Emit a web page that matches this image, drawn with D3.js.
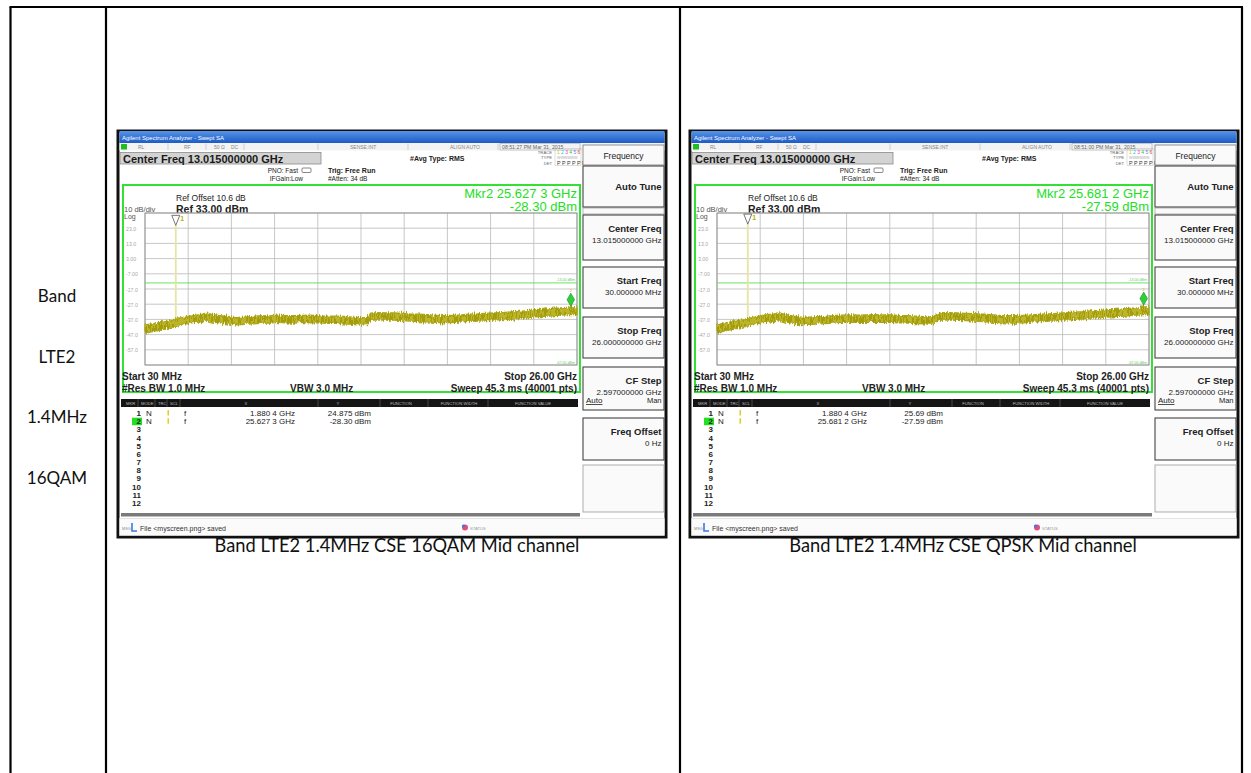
<!DOCTYPE html>
<html>
<head>
<meta charset="utf-8">
<script src="https://cdn.jsdelivr.net/npm/d3@7"></script>
<style>
  body { margin: 0; background: #fff; }
  svg { display: block; }
  .sa text { font-family: "Liberation Sans", Arial, sans-serif; }
  .doc { font-family: Lato, "Open Sans", sans-serif; }
</style>
</head>
<body>
<svg id="chart" width="1251" height="773"></svg>
<script>
// ---- document table text ----
const rowLabels = ["Band", "LTE2", "1.4MHz", "16QAM"];
const captions = ["Band LTE2 1.4MHz CSE 16QAM Mid channel", "Band LTE2 1.4MHz CSE QPSK Mid channel"];

// ---- analyzer settings ----
const startGHz = 0.03;
const stopGHz = 26.0;
const refLevel = 33.0;          // dBm, top graticule line
const dbPerDiv = 10;
const limitLevel = -13.0;       // dBm display line
const yTickValues = [23, 13, 3, -7, -17, -27, -37, -47, -57];
const yTickLabels = ["23.0", "13.0", "3.00", "-7.00", "-17.0", "-27.0", "-37.0", "-47.0", "-57.0"];
const sweepTimes = ["08:51:27 PM Mar 31, 2015", "08:51:00 PM Mar 31, 2015"];

// ---- trace envelopes (max / min of the noise band), dBm vs GHz ----
const freqGHz = [0.03,0.5,1.0,1.5,2.0,2.5,3.0,3.5,3.7,4.0,4.5,5.0,5.5,6.0,6.5,7.0,7.5,8.0,8.5,9.0,9.5,10.0,10.5,11.0,11.5,12.0,12.5,13.0,13.4,13.6,14.0,14.5,15.0,15.5,16.0,16.5,17.0,17.5,18.0,18.5,19.0,19.5,20.0,20.5,21.0,21.5,22.0,22.5,23.0,23.5,24.0,24.5,25.0,25.5,25.63,26.0];
const qamPeak = [-40.6,-40.0,-38.9,-37.9,-36.2,-35.3,-34.4,-33.5,-32.8,-33.6,-34.5,-35.0,-35.9,-35.5,-35.1,-34.6,-34.7,-34.2,-34.6,-34.5,-34.4,-34.2,-34.7,-34.8,-34.9,-35.1,-35.6,-35.9,-35.8,-32.8,-32.6,-32.7,-32.8,-33.0,-33.5,-33.6,-33.9,-34.3,-34.6,-34.3,-34.1,-33.5,-33.4,-33.0,-32.8,-32.5,-32.1,-31.8,-31.2,-30.6,-30.3,-29.8,-29.5,-29.0,-28.3,-29.0];
const qamFloor = [-46.0,-45.0,-44.1,-42.6,-41.3,-40.0,-39.1,-38.3,-37.4,-38.5,-39.2,-39.9,-40.6,-40.3,-39.9,-39.6,-39.4,-39.0,-39.3,-39.4,-39.0,-39.2,-39.3,-39.6,-39.6,-39.9,-40.2,-40.7,-40.5,-37.6,-37.3,-37.4,-37.5,-37.8,-38.1,-38.4,-38.6,-38.9,-39.3,-39.1,-38.8,-38.3,-38.1,-37.9,-37.5,-37.2,-37.0,-36.5,-36.0,-35.4,-35.0,-34.7,-34.2,-33.9,-33.7,-33.8];
const qpskPeak = [-40.7,-39.5,-38.5,-37.4,-36.1,-34.9,-33.9,-33.3,-32.6,-33.4,-34.7,-35.5,-35.6,-35.2,-35.0,-34.5,-34.2,-34.0,-34.2,-34.1,-33.9,-34.1,-34.0,-34.4,-34.6,-34.8,-35.2,-35.3,-32.8,-32.5,-32.6,-32.8,-33.0,-33.2,-33.6,-33.9,-34.3,-34.5,-34.6,-34.3,-34.0,-33.6,-33.3,-33.0,-32.6,-32.2,-31.9,-31.4,-31.0,-30.7,-30.4,-30.1,-29.6,-29.2,-27.6,-29.0];
const qpskFloor = [-46.0,-44.6,-43.5,-42.3,-41.0,-39.7,-38.9,-38.1,-37.3,-38.2,-39.4,-40.4,-40.3,-40.1,-39.8,-39.4,-39.0,-38.9,-39.0,-38.9,-38.8,-38.9,-38.9,-39.2,-39.4,-39.7,-40.0,-40.2,-37.6,-37.4,-37.4,-37.6,-37.8,-38.1,-38.4,-38.8,-39.1,-39.3,-39.4,-39.2,-38.8,-38.4,-38.1,-37.9,-37.4,-37.0,-36.7,-36.2,-35.8,-35.5,-35.2,-34.9,-34.4,-34.0,-33.8,-33.8];

// ---- marker table ----
const qamMarkerFreq = [1.8804, 25.6273];
const qamMarkerLevel = [24.875, -28.30];
const qamMarkerX = ["1.880 4 GHz", "25.627 3 GHz"];
const qamMarkerY = ["24.875 dBm", "-28.30 dBm"];
const qpskMarkerFreq = [1.8804, 25.6812];
const qpskMarkerLevel = [25.69, -27.59];
const qpskMarkerX = ["1.880 4 GHz", "25.681 2 GHz"];
const qpskMarkerY = ["25.69 dBm", "-27.59 dBm"];
const mkrReadoutFreq = ["25.627 3 GHz", "25.681 2 GHz"];
const mkrReadoutLevel = ["-28.30 dBm", "-27.59 dBm"];

const softkeys = [
  { label: "Auto Tune", value: "" },
  { label: "Center Freq", value: "13.015000000 GHz" },
  { label: "Start Freq", value: "30.000000 MHz" },
  { label: "Stop Freq", value: "26.000000000 GHz" },
  { label: "CF Step", value: "2.597000000 GHz" },
  { label: "Freq Offset", value: "0 Hz" }
];
const tableHeads = ["MKR", "MODE", "TRC", "SCL", "X", "Y", "FUNCTION", "FUNCTION WIDTH", "FUNCTION VALUE"];

const svg = d3.select("#chart");
svg.append("rect").attr("width", 1251).attr("height", 773).attr("fill", "#fff");

const defs = svg.append("defs");
const tb = defs.append("linearGradient").attr("id", "titleBar").attr("x1", 0).attr("y1", 0).attr("x2", 0).attr("y2", 1);
tb.append("stop").attr("offset", 0).attr("stop-color", "#5793e8");
tb.append("stop").attr("offset", 1).attr("stop-color", "#1c5bc6");
const pat = defs.append("pattern").attr("id", "traceFill").attr("width", 2).attr("height", 4).attr("patternUnits", "userSpaceOnUse");
pat.append("rect").attr("width", 2).attr("height", 4).attr("fill", "#bcb52a");
pat.append("rect").attr("width", 1).attr("height", 4).attr("fill", "#a39d0c");
// ragged edge for the noise band
const rough = defs.append("filter").attr("id", "rough")
  .attr("x", "-2%").attr("y", "-60%").attr("width", "104%").attr("height", "220%");
rough.append("feTurbulence").attr("type", "fractalNoise").attr("baseFrequency", "0.85 0.06")
  .attr("numOctaves", 2).attr("seed", 7).attr("result", "n");
rough.append("feDisplacementMap").attr("in", "SourceGraphic").attr("in2", "n").attr("scale", 6)
  .attr("xChannelSelector", "R").attr("yChannelSelector", "G");

// ---- document table ----
const doc = svg.append("g").attr("class", "doc");
[[10.5, 7, 10.5, 773], [106, 7, 106, 773], [680, 7, 680, 773], [1242, 7, 1242, 773], [9.5, 7, 1243, 7]]
  .forEach(([x1, y1, x2, y2]) => doc.append("line").attr("x1", x1).attr("y1", y1).attr("x2", x2).attr("y2", y2)
    .attr("stroke", "#000").attr("stroke-width", 2.2));
doc.selectAll("text.rowlab").data(rowLabels).join("text")
  .attr("x", 57).attr("y", (d, i) => 302 + i * 60.7)
  .attr("text-anchor", "middle").attr("font-size", 17).attr("fill", "#111").text(d => d);
doc.selectAll("text.cap").data(captions).join("text")
  .attr("x", (d, i) => i === 0 ? 397 : 963).attr("y", 552)
  .attr("text-anchor", "middle").attr("font-size", 18.3).attr("fill", "#111").text(d => d);

// ---- one analyzer screen ----
function drawScreen(g, cfg) {
  const x = d3.scaleLinear().domain([startGHz, stopGHz]).range([27, 459]);
  const y = d3.scaleLinear().domain([refLevel, refLevel - 10 * dbPerDiv]).range([82, 234]);
  const T = (sel, px, py, txt, size, opts = {}) => sel.append("text").attr("x", px).attr("y", py)
    .attr("font-size", size).attr("fill", opts.fill || "#222").attr("font-weight", opts.bold ? "bold" : null)
    .attr("text-anchor", opts.anchor || "start").text(txt);

  g.append("rect").attr("x", 0).attr("y", 0).attr("width", 548).attr("height", 406)
    .attr("fill", "#fff").attr("stroke", "#111").attr("stroke-width", 3);
  // title bar
  g.append("rect").attr("x", 1.5).attr("y", 0).attr("width", 545).attr("height", 12).attr("fill", "url(#titleBar)");
  T(g, 4, 8.5, "Agilent Spectrum Analyzer - Swept SA", 6, { fill: "#fff" });
  // status row
  g.append("rect").attr("x", 1.5).attr("y", 12).attr("width", 545).attr("height", 7.5).attr("fill", "#f3f3f3");
  g.append("rect").attr("x", 3).attr("y", 13).attr("width", 6).attr("height", 5.5).attr("fill", "#1fbf1f");
  [["RL", 20], ["RF", 66], ["50 Ω", 96], ["DC", 113], ["SENSE:INT", 232], ["ALIGN AUTO", 332]]
    .forEach(([t, px]) => T(g, px, 18, t, 5, { fill: "#888" }));
  [50, 88, 126, 200, 290, 380].forEach(px => g.append("line").attr("x1", px).attr("x2", px)
    .attr("y1", 12.5).attr("y2", 19).attr("stroke", "#bbb").attr("stroke-width", 0.6));
  g.append("rect").attr("x", 382).attr("y", 12.5).attr("width", 80).attr("height", 6.5).attr("fill", "none").attr("stroke", "#999").attr("stroke-width", 0.5);
  T(g, 384, 18, cfg.time, 5.2, { fill: "#666" });
  // center freq box
  g.append("rect").attr("x", 2).attr("y", 21.5).attr("width", 201).attr("height", 11.5)
    .attr("fill", "#d3d3d3").attr("stroke", "#8a8a8a").attr("stroke-width", 0.8);
  T(g, 5, 31.5, "Center Freq 13.015000000 GHz", 11, { bold: true, fill: "#1a1a1a" });
  T(g, 180, 41.5, "PNO: Fast", 6.5, { anchor: "end" });
  g.append("rect").attr("x", 184).attr("y", 37).attr("width", 9).attr("height", 4.5).attr("rx", 1)
    .attr("fill", "none").attr("stroke", "#555").attr("stroke-width", 0.7);
  T(g, 185, 49.5, "IFGain:Low", 6.5, { anchor: "end" });
  T(g, 210, 42, "Trig: Free Run", 7, { bold: true });
  T(g, 210, 50, "#Atten: 34 dB", 6.5);
  T(g, 292, 30, "#Avg Type: RMS", 7, { bold: true });
  T(g, 434, 22.5, "TRACE", 4.2, { anchor: "end", fill: "#666" });
  ["#c8c400", "#30c0e0", "#e040e0", "#30c030", "#6080ff", "#e04040"].forEach((c, i) =>
    T(g, 439 + i * 4.1, 22.5, String(i + 1), 5, { fill: c }));
  g.append("rect").attr("x", 437).attr("y", 17.5).attr("width", 26).attr("height", 17).attr("fill", "none").attr("stroke", "#aaa").attr("stroke-width", 0.4);
  T(g, 434, 28, "TYPE", 4.2, { anchor: "end", fill: "#666" });
  T(g, 439, 28, "WWWWWW", 3.6, { fill: "#aaa" });
  T(g, 434, 33.5, "DET", 4.2, { anchor: "end", fill: "#666" });
  T(g, 439, 33.5, "P P P P P P", 5.4, { fill: "#333" });

  // plot region
  g.append("rect").attr("x", 5).attr("y", 54).attr("width", 457).attr("height", 207)
    .attr("fill", "#fff").attr("stroke", "#33e033").attr("stroke-width", 2);
  T(g, 58, 70, "Ref Offset 10.6 dB", 8.5);
  T(g, 6, 81, "10 dB/div", 7.5, { fill: "#555" });
  T(g, 58, 82, "Ref 33.00 dBm", 10.5, { bold: true });
  T(g, 6, 87.5, "Log", 7, { fill: "#555" });
  T(g, 459, 67, "Mkr2 " + cfg.mkrFreq, 13, { anchor: "end", fill: "#22e022" });
  T(g, 459, 80, cfg.mkrLevel, 13, { anchor: "end", fill: "#22e022" });

  // graticule
  const grid = g.append("g");
  const xTicks = d3.range(11).map(i => startGHz + i * (stopGHz - startGHz) / 10);
  const yTicks = d3.range(11).map(i => refLevel - i * dbPerDiv);
  grid.selectAll("line.v").data(xTicks).join("line")
    .attr("x1", d => x(d)).attr("x2", d => x(d)).attr("y1", y(refLevel)).attr("y2", y(refLevel - 10 * dbPerDiv))
    .attr("stroke", "#b9b9b9").attr("stroke-width", 0.8);
  grid.selectAll("line.h").data(yTicks).join("line")
    .attr("x1", x(startGHz)).attr("x2", x(stopGHz)).attr("y1", d => y(d)).attr("y2", d => y(d))
    .attr("stroke", "#b9b9b9").attr("stroke-width", 0.8);
  grid.append("rect").attr("x", x(startGHz)).attr("y", y(refLevel))
    .attr("width", x(stopGHz) - x(startGHz)).attr("height", y(refLevel - 100) - y(refLevel))
    .attr("fill", "none").attr("stroke", "#8f8f8f").attr("stroke-width", 0.9);
  grid.selectAll("text.yl").data(yTickValues).join("text")
    .attr("x", 8).attr("y", d => y(d) + 2.5).attr("font-size", 5.2).attr("fill", "#a8a8a8")
    .text((d, i) => yTickLabels[i]);

  // display line
  g.append("line").attr("x1", x(startGHz)).attr("x2", x(stopGHz)).attr("y1", y(limitLevel)).attr("y2", y(limitLevel))
    .attr("stroke", "#55e055").attr("stroke-width", 0.9);
  T(g, 457, y(limitLevel) - 1.5, "-13.00 dBm", 3.6, { anchor: "end", fill: "#66cc66" });
  T(g, 457, y(refLevel - 100) - 1.5, "-67.00 dBm", 3.6, { anchor: "end", fill: "#66cc66" });

  // marker 1 carrier line
  const m1x = x(cfg.mFreq[0]), m1y = y(cfg.mLevel[0]);
  g.append("line").attr("x1", m1x).attr("x2", m1x).attr("y1", m1y).attr("y2", y(-42))
    .attr("stroke", "#e6e5a6").attr("stroke-width", 1.8);

  // trace band
  const pts = freqGHz.map((f, i) => ({ f, hi: cfg.peak[i], lo: cfg.floor[i] }));
  g.append("path").datum(pts)
    .attr("d", d3.area().x(d => x(d.f)).y0(d => y(d.lo)).y1(d => y(d.hi)))
    .attr("fill", "url(#traceFill)").attr("stroke", "#aca616").attr("stroke-width", 1.3)
    .attr("filter", "url(#rough)");

  // marker 1 symbol
  g.append("path").attr("d", `M${m1x},${m1y} L${m1x - 4},${m1y - 10} L${m1x + 4},${m1y - 10} Z`)
    .attr("fill", "#fff").attr("stroke", "#555").attr("stroke-width", 0.8);
  T(g, m1x + 4.5, m1y - 4, "1", 7, { fill: "#b9b400", bold: true });
  // marker 2 symbol
  const m2x = x(cfg.mFreq[1]), m2y = y(cfg.mLevel[1]);
  g.append("path").attr("d", `M${m2x},${m2y} L${m2x - 3.8},${m2y - 6.5} L${m2x},${m2y - 13} L${m2x + 3.8},${m2y - 6.5} Z`)
    .attr("fill", "#2fcf3a").attr("stroke", "#13902a").attr("stroke-width", 0.6);
  T(g, m2x, m2y - 14, "2", 4, { anchor: "middle", fill: "#f0a020" });

  // footer of plot
  T(g, 4, 248.5, "Start 30 MHz", 10, { bold: true });
  T(g, 4, 260.5, "#Res BW 1.0 MHz", 10, { bold: true });
  T(g, 172, 260.5, "VBW 3.0 MHz", 10, { bold: true });
  T(g, 459, 248.5, "Stop 26.00 GHz", 10, { anchor: "end", bold: true });
  T(g, 459, 260.5, "Sweep  45.3 ms (40001 pts)", 10, { anchor: "end", bold: true });

  // marker table
  g.append("rect").attr("x", 3).attr("y", 268).attr("width", 457).attr("height", 8).attr("fill", "#151515");
  const headX = [8, 23, 40, 52, 128, 220, 283, 341, 415];
  tableHeads.forEach((h, i) => T(g, headX[i], 274, h, 4.2, { fill: "#bbb", anchor: i >= 4 ? "middle" : "start" }));
  [20, 37, 49, 62, 200, 262, 310, 370].forEach(px => g.append("line").attr("x1", px).attr("x2", px)
    .attr("y1", 268).attr("y2", 276).attr("stroke", "#555").attr("stroke-width", 0.8));
  const rowY = i => 285 + i * 8.18;
  g.append("rect").attr("x", 14).attr("y", rowY(1) - 6.5).attr("width", 10).attr("height", 7.5).attr("fill", "#22e022");
  d3.range(1, 13).forEach(n => T(g, 23, rowY(n - 1), String(n), 8, { anchor: "end", bold: true, fill: "#222" }));
  cfg.mX.forEach((xs, i) => {
    T(g, 28, rowY(i), "N", 8, { fill: "#222" });
    g.append("rect").attr("x", 49.5).attr("y", rowY(i) - 6).attr("width", 1.4).attr("height", 5.5).attr("fill", "#d6cf10");
    T(g, 66, rowY(i), "f", 8, { fill: "#222" });
    T(g, 177, rowY(i), xs, 8, { anchor: "end", fill: "#222" });
    T(g, 253, rowY(i), cfg.mY[i], 8, { anchor: "end", fill: "#222" });
  });
  g.append("rect").attr("x", 3).attr("y", 382).attr("width", 459).attr("height", 3.5).attr("fill", "#7a7a7a");

  // status bar
  g.append("rect").attr("x", 1.5).attr("y", 387.5).attr("width", 545).attr("height", 17).attr("fill", "#fbfbfb")
    .attr("stroke", "#ccc").attr("stroke-width", 0.5);
  T(g, 4, 399, "MSG", 3.8, { fill: "#888" });
  g.append("path").attr("d", "M14,392 L14,400 L19,400").attr("fill", "none").attr("stroke", "#3a7ae0").attr("stroke-width", 1.6);
  T(g, 22, 399.5, "File <myscreen.png> saved", 7, { fill: "#333" });
  g.append("circle").attr("cx", 347).attr("cy", 396.5).attr("r", 3).attr("fill", "#e0507a");
  g.append("circle").attr("cx", 345.5).attr("cy", 395).attr("r", 1.6).attr("fill", "#3a7ae0");
  T(g, 352, 399, "STATUS", 4.2, { fill: "#999" });

  // softkey panel
  const sk = g.append("g");
  sk.append("rect").attr("x", 465).attr("y", 14).attr("width", 81).attr("height", 20)
    .attr("fill", "#fafafa").attr("stroke", "#777").attr("stroke-width", 0.8);
  T(sk, 505.5, 27.5, "Frequency", 8.5, { anchor: "middle", fill: "#222" });
  const boxes = [[35, 41], [84, 45], [136, 41], [186, 41], [236, 43], [287, 42]];
  sk.append("rect").attr("x", 465).attr("y", 77).attr("width", 81).attr("height", 6)
    .attr("fill", "#fafafa").attr("stroke", "#888").attr("stroke-width", 0.6);
  softkeys.forEach((k, i) => {
    const [top, h] = boxes[i];
    sk.append("rect").attr("x", 465).attr("y", top).attr("width", 81).attr("height", h)
      .attr("fill", "#fafafa").attr("stroke", "#444").attr("stroke-width", 1.1);
    const ly = k.value ? top + 17 : top + h / 2 + 3.5;
    T(sk, 543.5, ly, k.label, 9.5, { anchor: "end", bold: true, fill: "#222" });
    if (k.value) T(sk, 543.5, top + 28, k.value, 8, { anchor: "end", fill: "#222" });
  });
  T(sk, 468, 272, "Auto", 8, { fill: "#222" }).attr("text-decoration", "underline");
  T(sk, 543.5, 272, "Man", 7.5, { anchor: "end", fill: "#222" });
  sk.append("rect").attr("x", 465).attr("y", 334).attr("width", 81).attr("height", 47)
    .attr("fill", "#fafafa").attr("stroke", "#999").attr("stroke-width", 0.8);
}

const screens = [
  { ox: 118, time: sweepTimes[0], peak: qamPeak, floor: qamFloor, mFreq: qamMarkerFreq, mLevel: qamMarkerLevel,
    mX: qamMarkerX, mY: qamMarkerY, mkrFreq: mkrReadoutFreq[0], mkrLevel: mkrReadoutLevel[0] },
  { ox: 690, time: sweepTimes[1], peak: qpskPeak, floor: qpskFloor, mFreq: qpskMarkerFreq, mLevel: qpskMarkerLevel,
    mX: qpskMarkerX, mY: qpskMarkerY, mkrFreq: mkrReadoutFreq[1], mkrLevel: mkrReadoutLevel[1] }
];
screens.forEach(s => drawScreen(svg.append("g").attr("class", "sa").attr("transform", `translate(${s.ox},131)`), s));
</script>
</body>
</html>
